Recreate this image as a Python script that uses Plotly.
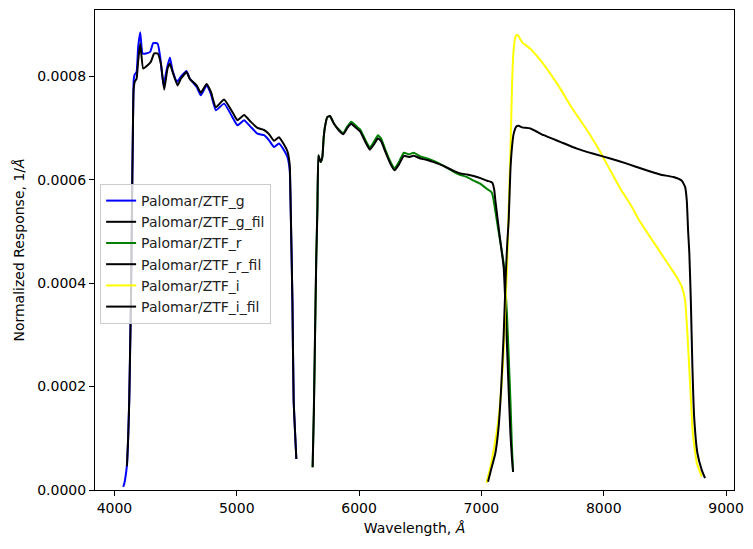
import plotly.graph_objects as go

# ---------------- data ----------------
g_wave = [4072, 4080, 4090, 4102, 4112, 4121, 4128, 4135, 4143, 4150, 4157, 4165, 4181, 4194,
          4211, 4222, 4230, 4257, 4292, 4317, 4353, 4374, 4401, 4429, 4453, 4475, 4510, 4543,
          4589, 4616, 4673, 4706, 4753, 4788, 4829, 4896, 4978, 5006, 5060, 5114, 5169, 5223,
          5264, 5305, 5345, 5386, 5414, 5433, 5441, 5455, 5465, 5487]
g_resp = [6e-6, 1.2e-5, 2.5e-5, 4.8e-5, 1.0e-4, 1.74e-4, 2.7e-4, 3.67e-4, 5.41e-4, 6.8e-4,
          7.9e-4, 8.03e-4, 8.08e-4, 8.57e-4, 8.85e-4, 8.55e-4, 8.44e-4, 8.44e-4, 8.47e-4, 8.64e-4,
          8.63e-4, 8.37e-4, 7.82e-4, 8.15e-4, 8.36e-4, 8.11e-4, 7.89e-4, 7.99e-4, 8.10e-4, 7.95e-4,
          7.79e-4, 7.63e-4, 7.82e-4, 7.66e-4, 7.34e-4, 7.47e-4, 7.15e-4, 7.05e-4, 7.15e-4, 7.02e-4,
          6.89e-4, 6.86e-4, 6.76e-4, 6.63e-4, 6.70e-4, 6.57e-4, 6.44e-4, 6.18e-4, 5.41e-4, 3.67e-4,
          1.74e-4, 6e-5]

gfil_wave = [4102, 4112, 4121, 4128, 4135, 4143, 4150, 4157, 4167, 4181, 4194, 4211, 4235, 4271,
             4298, 4325, 4353, 4380, 4407, 4434, 4453, 4480, 4516, 4543, 4589, 4616, 4673, 4706,
             4753, 4788, 4829, 4896, 4978, 5006, 5060, 5114, 5169, 5223, 5264, 5305, 5345, 5386,
             5414, 5433, 5441, 5455, 5465, 5487]
gfil_resp = [4.6e-5, 1.0e-4, 1.74e-4, 2.7e-4, 3.67e-4, 5.41e-4, 6.8e-4, 7.75e-4, 7.9e-4, 7.95e-4,
             8.3e-4, 8.63e-4, 8.15e-4, 8.21e-4, 8.28e-4, 8.44e-4, 8.44e-4, 8.24e-4, 7.74e-4, 8.15e-4,
             8.24e-4, 8.05e-4, 7.82e-4, 7.95e-4, 8.08e-4, 7.95e-4, 7.82e-4, 7.68e-4, 7.85e-4, 7.70e-4,
             7.40e-4, 7.55e-4, 7.25e-4, 7.15e-4, 7.25e-4, 7.12e-4, 7.00e-4, 6.96e-4, 6.88e-4, 6.75e-4,
             6.82e-4, 6.68e-4, 6.55e-4, 6.28e-4, 5.45e-4, 3.67e-4, 1.74e-4, 6e-5]

r_wave = [5620, 5630, 5640, 5650, 5659, 5667, 5676, 5686, 5700, 5710, 5721, 5740, 5762, 5795, 5835,
          5871, 5904, 5936, 5971, 6012, 6053, 6088, 6121, 6154, 6181, 6216, 6257, 6290, 6325, 6366,
          6407, 6447, 6502, 6557, 6610, 6665, 6720, 6774, 6829, 6883, 6937, 6992, 7046, 7073, 7087,
          7100, 7140, 7182, 7210, 7237, 7250, 7259]
r_resp = [4.4e-5, 1.5e-4, 3.0e-4, 4.5e-4, 5.41e-4, 6.47e-4, 6.40e-4, 6.34e-4, 6.44e-4, 6.8e-4,
          7.02e-4, 7.21e-4, 7.23e-4, 7.08e-4, 6.97e-4, 6.90e-4, 7.03e-4, 7.12e-4, 7.05e-4, 6.96e-4,
          6.76e-4, 6.62e-4, 6.73e-4, 6.86e-4, 6.79e-4, 6.57e-4, 6.34e-4, 6.22e-4, 6.34e-4, 6.52e-4,
          6.49e-4, 6.52e-4, 6.45e-4, 6.41e-4, 6.36e-4, 6.30e-4, 6.23e-4, 6.15e-4, 6.09e-4, 6.05e-4,
          5.98e-4, 5.92e-4, 5.82e-4, 5.78e-4, 5.74e-4, 5.60e-4, 5.0e-4, 4.38e-4, 3.35e-4, 1.74e-4,
          8e-5, 3.5e-5]

rfil_wave = [5620, 5630, 5640, 5650, 5659, 5667, 5676, 5686, 5700, 5710, 5721, 5740, 5762, 5795, 5835,
             5871, 5904, 5936, 5971, 6012, 6053, 6088, 6121, 6154, 6181, 6216, 6257, 6290, 6325, 6366,
             6407, 6447, 6502, 6557, 6610, 6665, 6720, 6774, 6829, 6883, 6937, 6992, 7046, 7073, 7090,
             7105, 7114, 7150, 7182, 7201, 7220, 7237, 7250, 7259]
rfil_resp = [4.4e-5, 1.5e-4, 3.0e-4, 4.5e-4, 5.41e-4, 6.47e-4, 6.40e-4, 6.34e-4, 6.44e-4, 6.8e-4,
             7.02e-4, 7.21e-4, 7.23e-4, 7.08e-4, 6.95e-4, 6.88e-4, 7.00e-4, 7.08e-4, 7.01e-4, 6.92e-4,
             6.72e-4, 6.58e-4, 6.68e-4, 6.80e-4, 6.74e-4, 6.53e-4, 6.30e-4, 6.18e-4, 6.29e-4, 6.46e-4,
             6.44e-4, 6.46e-4, 6.41e-4, 6.38e-4, 6.34e-4, 6.29e-4, 6.23e-4, 6.17e-4, 6.12e-4, 6.10e-4,
             6.07e-4, 6.03e-4, 5.98e-4, 5.96e-4, 5.94e-4, 5.80e-4, 5.60e-4, 4.9e-4, 4.31e-4, 3.30e-4,
             2.1e-4, 1.1e-4, 6e-5, 3.5e-5]

i_wave = [7041, 7070, 7100, 7130, 7155, 7170, 7182, 7195, 7210, 7225, 7237, 7250, 7261, 7278, 7291,
          7305, 7332, 7400, 7482, 7563, 7645, 7726, 7808, 7890, 7971, 8053, 8135, 8216, 8298, 8380,
          8470, 8540, 8597, 8638, 8665, 8684, 8706, 8728, 8761, 8801]
i_resp = [1.4e-5, 4e-5, 7.7e-5, 1.2e-4, 1.74e-4, 2.2e-4, 2.7e-4, 3.5e-4, 4.31e-4, 5.6e-4, 6.5e-4,
          7.79e-4, 8.44e-4, 8.76e-4, 8.80e-4, 8.77e-4, 8.66e-4, 8.53e-4, 8.31e-4, 8.05e-4, 7.76e-4,
          7.44e-4, 7.15e-4, 6.86e-4, 6.54e-4, 6.18e-4, 5.83e-4, 5.53e-4, 5.18e-4, 4.89e-4, 4.57e-4,
          4.32e-4, 4.12e-4, 3.93e-4, 3.67e-4, 3.03e-4, 2.06e-4, 1.1e-4, 5.2e-5, 2.6e-5]

ifil_wave = [7054, 7080, 7114, 7140, 7160, 7182, 7200, 7212, 7223, 7237, 7250, 7264, 7286, 7305,
             7332, 7400, 7509, 7645, 7781, 7917, 8053, 8189, 8325, 8461, 8570, 8638, 8665, 8679,
             8690, 8700, 8712, 8725, 8739, 8766, 8801, 8828]
ifil_resp = [1.6e-5, 4e-5, 7.1e-5, 1.2e-4, 1.9e-4, 3.0e-4, 4.2e-4, 4.8e-4, 5.22e-4, 6.18e-4,
             6.63e-4, 6.89e-4, 7.03e-4, 7.04e-4, 7.01e-4, 6.99e-4, 6.86e-4, 6.73e-4, 6.60e-4,
             6.50e-4, 6.41e-4, 6.31e-4, 6.20e-4, 6.10e-4, 6.05e-4, 5.98e-4, 5.86e-4, 5.60e-4,
             5.0e-4, 4.57e-4, 3.67e-4, 2.38e-4, 1.42e-4, 7.1e-5, 3.9e-5, 2.3e-5]

series = [
    ("Palomar/ZTF_g", g_wave, g_resp, "blue"),
    ("Palomar/ZTF_g_fil", gfil_wave, gfil_resp, "black"),
    ("Palomar/ZTF_r", r_wave, r_resp, "green"),
    ("Palomar/ZTF_r_fil", rfil_wave, rfil_resp, "black"),
    ("Palomar/ZTF_i", i_wave, i_resp, "yellow"),
    ("Palomar/ZTF_i_fil", ifil_wave, ifil_resp, "black"),
]

x_ticks = [4000, 5000, 6000, 7000, 8000, 9000]
y_ticks = [0, 0.0002, 0.0004, 0.0006, 0.0008]

fig = go.Figure()
for name, w, r, c in series:
    fig.add_trace(go.Scatter(x=w, y=r, mode="lines", name=name,
                             line=dict(color=c, width=2, shape="spline", smoothing=0.4)))

font = dict(family="DejaVu Sans", size=14, color="black")
fig.update_layout(
    width=753, height=549,
    margin=dict(l=95, r=19, t=10, b=59),
    paper_bgcolor="white", plot_bgcolor="white",
    font=font,
    showlegend=True,
    legend=dict(x=0.008, y=0.6375, xanchor="left", yanchor="top",
                bgcolor="rgba(255,255,255,0.8)", bordercolor="#cccccc", borderwidth=1,
                font=dict(family="DejaVu Sans", size=14, color="#222222")),
    xaxis=dict(range=[3841, 9065], tickvals=x_ticks, ticktext=[str(v) for v in x_ticks],
               showline=True, linecolor="black", linewidth=1, mirror=True,
               ticks="outside", ticklen=5, tickwidth=1, tickcolor="black",
               showgrid=False, zeroline=False, automargin=False,
               title=dict(text="Wavelength, <i>Å</i>", font=font, standoff=8)),
    yaxis=dict(range=[0, 0.000928], tickvals=y_ticks, ticktext=[f"{v:.4f}" for v in y_ticks],
               showline=True, linecolor="black", linewidth=1, mirror=True,
               ticks="outside", ticklen=5, tickwidth=1, tickcolor="black",
               showgrid=False, zeroline=False, automargin=False,
               title=dict(text="Normalized Response, 1/<i>Å</i>", font=font, standoff=9)),
)

fig.write_html("out.html")
